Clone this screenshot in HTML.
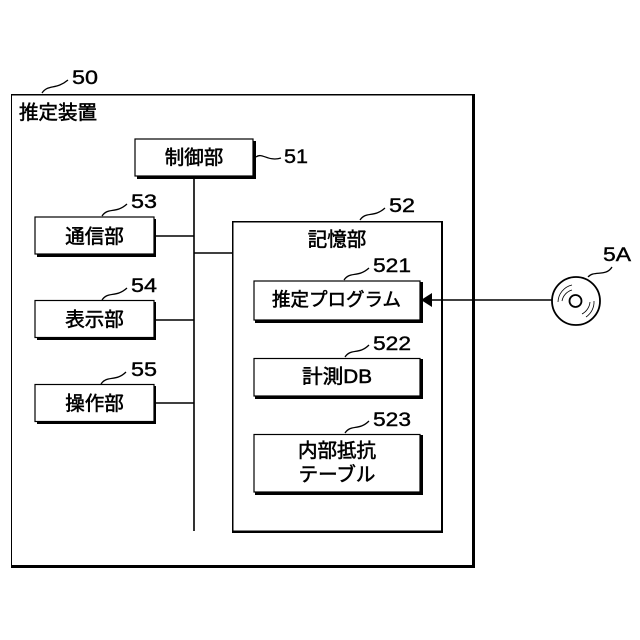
<!DOCTYPE html>
<html><head><meta charset="utf-8">
<style>
html,body{margin:0;padding:0;background:#fff}
svg{display:block}
text{font-family:"Liberation Sans","Noto Sans CJK JP",sans-serif;fill:#000;stroke:#000;stroke-width:.55}
.j{font-size:19.5px;text-anchor:middle}
.n{font-size:19.5px;stroke-width:.4}
.l{fill:none;stroke:#000;stroke-width:1.3}
.b{fill:#fff;stroke:#000;stroke-width:1.2}
.s{fill:#000}
</style></head>
<body>
<svg width="640" height="640" viewBox="0 0 640 640" xmlns="http://www.w3.org/2000/svg">
<!-- outer -->
<path d="M11 94H475V568H11Z" fill="#000"/>
<path d="M12 95.500H472V565H12Z" fill="#fff"/>
<text x="19" y="119" style="font-size:19.5px">推定装置</text>
<path class="l" d="M42 93C48 84 56 90 68 80"/>
<text class="n" x="72" y="84" textLength="26" lengthAdjust="spacingAndGlyphs">50</text>

<!-- bus -->
<path d="M194 176V531M154 236H194M154 320H194M154 403H194M194 253H233" fill="none" stroke="#000" stroke-width="1.6"/>

<!-- control -->
<rect class="s" x="137" y="141" width="119" height="38"/>
<rect class="b" x="135" y="139" width="118" height="37"/>
<text class="j" x="194" y="164">制御部</text>
<path class="l" d="M256 157C262 152 268 162 281 158"/>
<text class="n" x="284" y="163" textLength="24" lengthAdjust="spacingAndGlyphs">51</text>

<!-- comm -->
<rect class="s" x="37" y="219" width="119" height="38"/>
<rect class="b" x="35" y="217" width="119" height="37"/>
<text class="j" x="94.500" y="243">通信部</text>
<path class="l" d="M102 216C108 207 116 214 127 204"/>
<text class="n" x="131" y="208" textLength="26" lengthAdjust="spacingAndGlyphs">53</text>

<!-- display -->
<rect class="s" x="37" y="302" width="119" height="38"/>
<rect class="b" x="35" y="300.500" width="119" height="37"/>
<text class="j" x="94.500" y="326">表示部</text>
<path class="l" d="M102 300C108 291 116 298 127 288"/>
<text class="n" x="131" y="292" textLength="26" lengthAdjust="spacingAndGlyphs">54</text>

<!-- op -->
<rect class="s" x="37" y="386" width="119" height="38"/>
<rect class="b" x="35" y="384.500" width="119" height="37"/>
<text class="j" x="94.500" y="410">操作部</text>
<path class="l" d="M101 384C107 375 116 382 126 372"/>
<text class="n" x="131" y="376" textLength="26" lengthAdjust="spacingAndGlyphs">55</text>

<!-- storage -->
<path d="M232 221H443V533H232Z" fill="#000"/>
<path d="M233.500 222.500H441V530.500H233.500Z" fill="#fff"/>
<text class="j" x="337" y="246">記憶部</text>
<path class="l" d="M360 220C366 211 374 218 385 208"/>
<text class="n" x="389" y="212" textLength="26" lengthAdjust="spacingAndGlyphs">52</text>

<!-- program -->
<rect class="s" x="255" y="282" width="168" height="41"/>
<rect class="b" x="254" y="281" width="166" height="39"/>
<text class="j" x="336.500" y="306" style="font-size:18.5px">推定プログラム</text>
<path class="l" d="M344 280C350 271 358 278 369 268"/>
<text class="n" x="373" y="272" textLength="38" lengthAdjust="spacingAndGlyphs">521</text>

<!-- db -->
<rect class="s" x="255" y="359" width="168" height="40"/>
<rect class="b" x="254" y="358.500" width="166" height="37.500"/>
<text x="302" y="383" style="font-size:19.5px" textLength="70" lengthAdjust="spacingAndGlyphs">計測DB</text>
<path class="l" d="M345 357C351 348 359 355 369 345"/>
<text class="n" x="373" y="350" textLength="38" lengthAdjust="spacingAndGlyphs">522</text>

<!-- table -->
<rect class="s" x="255" y="435" width="168" height="60"/>
<rect class="b" x="254" y="434.500" width="166" height="57.500"/>
<text class="j" x="337" y="457">内部抵抗</text>
<text class="j" x="337" y="481">テーブル</text>
<path class="l" d="M345 433C351 424 359 431 369 421"/>
<text class="n" x="373" y="426" textLength="38" lengthAdjust="spacingAndGlyphs">523</text>

<!-- arrow -->
<path d="M430 300H552" fill="none" stroke="#000" stroke-width="1.400"/>
<path d="M421 300L432 293V307Z" fill="#000"/>

<!-- disc -->
<circle cx="576" cy="301" r="24" fill="#fff" stroke="#000" stroke-width="1.800"/>
<circle cx="575.500" cy="301" r="6" fill="#fff" stroke="#000" stroke-width="1.800"/>
<path d="M558 302A18 18 0 0 1 572 285M562 301A14 14 0 0 1 572 290M590 302A15 15 0 0 1 582 314M594 301A18 18 0 0 1 586 317" fill="none" stroke="#000" stroke-width=".8"/>
<path class="l" d="M588 277C594 270 606 277 612 267"/>
<text class="n" x="603" y="261" textLength="28" lengthAdjust="spacingAndGlyphs">5A</text>
</svg>
</body></html>
